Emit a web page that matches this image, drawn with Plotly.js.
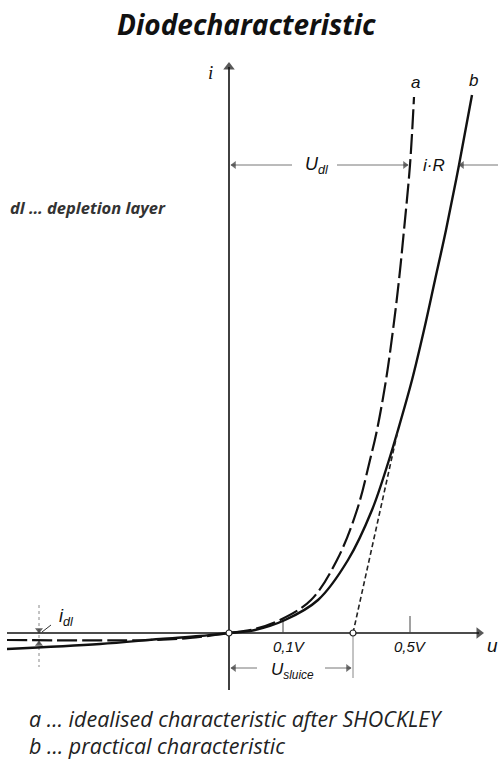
<!DOCTYPE html>
<html><head><meta charset="utf-8">
<script src="https://cdn.plot.ly/plotly-3.0.1.min.js"></script>
<style>html,body{margin:0;padding:0;background:#fff;}#chart{width:498px;height:767px;}</style>
</head><body><div id="chart"></div>
<script>
// schematic units: u to the right of origin, i upward from origin
const curveA_u = [-222, -79, -39, -14, 0, 26, 51, 82, 108, 128, 141, 148, 157, 164, 170, 175, 181, 185];
const curveA_i = [-7, -7, -5, -2, 0, 4, 13, 33, 73, 123, 173, 203, 253, 303, 353, 403, 468, 536];
const curveB_u = [-222, -129, -69, -29, 0, 26, 56, 89, 119, 143, 160, 169, 183, 195, 206, 217, 230, 243];
const curveB_i = [-16, -11, -6, -3, 0, 3, 13, 33, 73, 123, 173, 203, 253, 303, 353, 403, 468, 538];
const tangent_u = [124, 169];
const tangent_i = [0, 203];
const points_u = [0, 124];
const points_i = [0, 0];
const tickPos = [54, 181];
const tickLabels = ['0,1V', '0,5V'];

const txtFont = '"Open Sans", Lato, sans-serif';
const symFont = '"Liberation Sans", Arial, sans-serif';

// line segments used for axes and dimension lines: [x0, y0, x1, y1, color, width, dash]
const segs = [
  [-222, 0, 250, 0, '#111', 1.6, 'solid'],
  [0, -57, 0, 566, '#111', 1.6, 'solid'],
  [tickPos[0], 0, tickPos[0], 15, '#444', 1, 'solid'],
  [tickPos[1], 0, tickPos[1], 17, '#444', 1, 'solid'],
  [2, 468, 63, 468, '#777', 1, 'solid'],
  [108, 468, 179, 468, '#777', 1, 'solid'],
  [231, 468, 269, 468, '#777', 1, 'solid'],
  [2, -35, 28, -35, '#777', 1, 'solid'],
  [96, -35, 122, -35, '#777', 1, 'solid'],
  [124, 0, 124, -45, '#888', 1, 'solid'],
  [-190, 28, -190, -34, '#888', 1, 'dot'],
  [-187, 1, -178, 8, '#333', 1, 'solid']
];
// arrowheads: [x, y, symbol, size, color]
const heads = [
  [250, 0, 'triangle-right', 10, '#111'],
  [0, 566, 'triangle-up', 10, '#111'],
  [5, 468, 'triangle-left', 7, '#333'],
  [176, 468, 'triangle-right', 7, '#333'],
  [233, 468, 'triangle-left', 7, '#333'],
  [5, -35, 'triangle-left', 7, '#333'],
  [119, -35, 'triangle-right', 7, '#333'],
  [-190, 3, 'triangle-down', 7, '#222'],
  [-190, -11, 'triangle-up', 7, '#222']
];

const traces = [
  {x: curveA_u, y: curveA_i, mode: 'lines', line: {color: '#111', width: 2.2, dash: '20px,5px', shape: 'spline', smoothing: 1}, hoverinfo: 'skip'},
  {x: curveB_u, y: curveB_i, mode: 'lines', line: {color: '#111', width: 2.4, shape: 'spline', smoothing: 1}, hoverinfo: 'skip'},
  {x: tangent_u, y: tangent_i, mode: 'lines', line: {color: '#222', width: 1.6, dash: '5px,3px'}, hoverinfo: 'skip'},
  {x: heads.map(h => h[0]), y: heads.map(h => h[1]), mode: 'markers',
   marker: {symbol: heads.map(h => h[2]), size: heads.map(h => h[3]), color: heads.map(h => h[4]), line: {width: 0}}, hoverinfo: 'skip'},
  {x: points_u, y: points_i, mode: 'markers', marker: {symbol: 'circle', size: 6, color: '#fff', line: {color: '#222', width: 1.2}}, hoverinfo: 'skip'}
];

function label(x, y, text, size, opts) {
  return Object.assign({x: x, y: y, xref: 'x', yref: 'y', text: text, showarrow: false,
    font: {family: symFont, size: size, color: '#111'}, xanchor: 'center', yanchor: 'middle'}, opts || {});
}

const annotations = [
  label(17, 609, '<b><i>Diodecharacteristic</i></b>', 28, {font: {family: txtFont, size: 28, color: '#111'}}),
  label(-221, 426, '<b><i>dl … depletion layer</i></b>', 16.5, {xanchor: 'left', font: {family: txtFont, size: 16.5, color: '#333'}}),
  label(-202, -85, '<i>a … idealised characteristic after SHOCKLEY</i>', 21.5, {xanchor: 'left', font: {family: txtFont, size: 21.5, color: '#222'}}),
  label(-202, -112, '<i>b … practical characteristic</i>', 21.5, {xanchor: 'left', font: {family: txtFont, size: 21.5, color: '#222'}}),
  label(-19, 561, '<i>i</i>', 19, {font: {family: '"Liberation Serif", serif', size: 19, color: '#111'}}),
  label(263, -12, '<i>u</i>', 19, {}),
  label(186, 551, '<i>a</i>', 17, {}),
  label(244, 553, '<i>b</i>', 17, {}),
  label(88, 468, '<i>U<sub>dl</sub></i>', 18, {}),
  label(205, 468, '<i>i·R</i>', 17, {}),
  label(63, -38, '<i>U<sub>sluice</sub></i>', 17, {}),
  label(-163, 16, '<i>i<sub>dl</sub></i>', 18, {})
];
tickPos.forEach((p, k) => {
  annotations.push(label(p + (k === 0 ? 6 : 0), -13, '<i>' + tickLabels[k] + '</i>', 15, {}));
});

const shapes = segs.map(s => ({type: 'line', xref: 'x', yref: 'y', x0: s[0], y0: s[1], x1: s[2], y1: s[3],
  line: {color: s[4], width: s[5], dash: s[6]}, layer: 'below'}));

const layout = {
  width: 498, height: 767,
  margin: {l: 0, r: 0, t: 0, b: 0},
  paper_bgcolor: '#fff', plot_bgcolor: '#fff',
  showlegend: false,
  xaxis: {range: [-229, 269], visible: false, fixedrange: true},
  yaxis: {range: [-134, 633], visible: false, fixedrange: true},
  annotations: annotations,
  shapes: shapes
};
Plotly.newPlot('chart', traces, layout, {displayModeBar: false, staticPlot: true});
</script>
</body></html>
